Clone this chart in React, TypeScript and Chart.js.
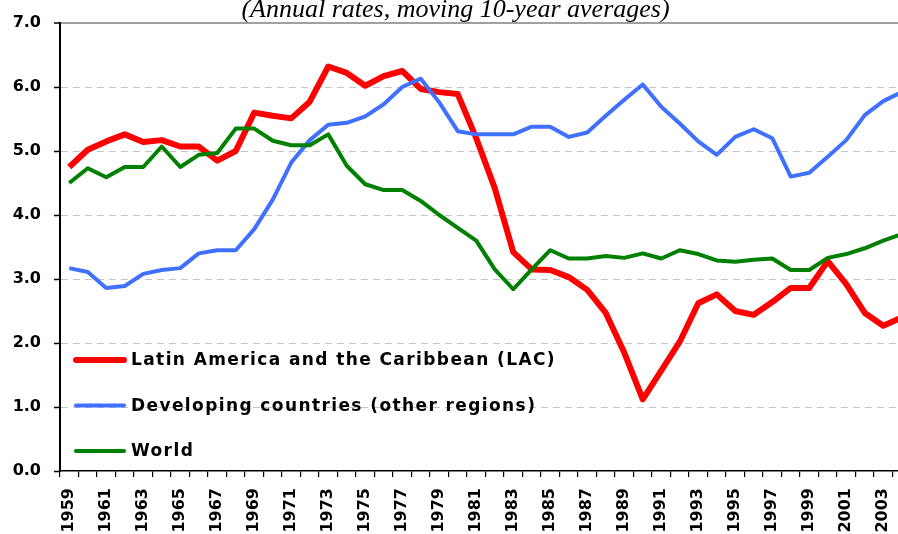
import { useEffect, useRef } from 'react';
import { Chart, registerables } from 'chart.js';

Chart.register(...registerables);

const chartTitle = '(Annual rates, moving 10-year averages)';

const years = [
  '1959', '1960', '1961', '1962', '1963', '1964', '1965', '1966', '1967', '1968',
  '1969', '1970', '1971', '1972', '1973', '1974', '1975', '1976', '1977', '1978',
  '1979', '1980', '1981', '1982', '1983', '1984', '1985', '1986', '1987', '1988',
  '1989', '1990', '1991', '1992', '1993', '1994', '1995', '1996', '1997', '1998',
  '1999', '2000', '2001', '2002', '2003', '2004',
];

const seriesNames = [
  'Latin America and the Caribbean (LAC)',
  'Developing countries (other regions)',
  'World',
];

const lacValues = [
  4.75, 5.02, 5.15, 5.26, 5.14, 5.17, 5.07, 5.07, 4.85, 5.0,
  5.6, 5.55, 5.51, 5.77, 6.32, 6.22, 6.02, 6.17, 6.25, 5.97,
  5.92, 5.89, 5.2, 4.42, 3.42, 3.15, 3.14, 3.03, 2.83, 2.47,
  1.85, 1.12, 1.57, 2.02, 2.62, 2.76, 2.5, 2.44, 2.64, 2.86,
  2.86, 3.28, 2.92, 2.47, 2.27, 2.4,
];

const developingValues = [
  3.17, 3.11, 2.86, 2.89, 3.08, 3.14, 3.17, 3.4, 3.45, 3.45,
  3.78, 4.24, 4.82, 5.17, 5.41, 5.44, 5.54, 5.73, 6.0, 6.13,
  5.76, 5.31, 5.26, 5.26, 5.26, 5.38, 5.38, 5.22, 5.29, 5.55,
  5.8, 6.04, 5.69, 5.43, 5.15, 4.94, 5.22, 5.34, 5.2, 4.6,
  4.66, 4.91, 5.17, 5.56, 5.78, 5.92,
];

const worldValues = [
  4.5, 4.73, 4.59, 4.75, 4.75, 5.07, 4.75, 4.94, 4.97, 5.35,
  5.35, 5.16, 5.09, 5.09, 5.26, 4.77, 4.48, 4.39, 4.39, 4.22,
  4.0, 3.8, 3.6, 3.15, 2.84, 3.15, 3.45, 3.32, 3.32, 3.36,
  3.33, 3.4, 3.32, 3.45, 3.39, 3.29, 3.27, 3.3, 3.32, 3.14,
  3.14, 3.33, 3.39, 3.48, 3.6, 3.7,
];

const yMin = 0;
const yMax = 7;
const yStep = 1;

const insideLegend = {
  id: 'insideLegend',
  afterDatasetsDraw(chart: any) {
    const { ctx, chartArea } = chart;
    const ds = chart.data.datasets;
    const n = ds.length;
    const rowGap = 45.5;
    ctx.save();
    ctx.font = 'bold 17px "DejaVu Sans"';
    try { (ctx as any).letterSpacing = '1.4px'; } catch (e) { /* ignore */ }
    ctx.textBaseline = 'middle';
    ctx.textAlign = 'left';
    ds.forEach((d: any, i: number) => {
      const y = chartArea.bottom - 20 - (n - 1 - i) * rowGap;
      ctx.beginPath();
      ctx.strokeStyle = d.borderColor;
      ctx.lineWidth = d.borderWidth;
      ctx.lineCap = 'round';
      ctx.moveTo(chartArea.left + 16, y);
      ctx.lineTo(chartArea.left + 64, y);
      ctx.stroke();
      ctx.fillStyle = '#000';
      ctx.fillText(d.label, chartArea.left + 71, y + 1);
    });
    ctx.restore();
  },
};

export default function App() {
  const canvasRef = useRef<HTMLCanvasElement | null>(null);

  useEffect(() => {
    const canvas = canvasRef.current;
    if (!canvas) return;
    const chart = new Chart(canvas, {
      type: 'line',
      data: {
        labels: years,
        datasets: [
          {
            label: seriesNames[0],
            data: lacValues,
            borderColor: '#FF0000',
            backgroundColor: '#FF0000',
            borderWidth: 6,
            pointRadius: 0,
            tension: 0,
            fill: false,
            borderJoinStyle: 'round',
            order: 3,
          },
          {
            label: seriesNames[1],
            data: developingValues,
            borderColor: '#4070FF',
            backgroundColor: '#4070FF',
            borderWidth: 4,
            pointRadius: 0,
            tension: 0,
            fill: false,
            borderJoinStyle: 'round',
            order: 2,
          },
          {
            label: seriesNames[2],
            data: worldValues,
            borderColor: '#008000',
            backgroundColor: '#008000',
            borderWidth: 4,
            pointRadius: 0,
            tension: 0,
            fill: false,
            borderJoinStyle: 'round',
            order: 1,
          },
        ],
      },
      options: {
        responsive: false,
        animation: false,
        devicePixelRatio: 1,
        layout: { padding: { top: 1, left: 0, right: 0, bottom: 0 } },
        plugins: {
          legend: { display: false },
          tooltip: { enabled: false },
          title: {
            display: true,
            text: chartTitle,
            color: '#000',
            font: { family: '"Liberation Serif", serif', size: 26, style: 'italic', weight: 'normal', lineHeight: 1.0 },
            padding: { top: 4, bottom: 0 },
          },
        },
        scales: {
          x: {
            type: 'category',
            offset: true,
            grid: {
              display: true,
              offset: true,
              drawOnChartArea: false,
              drawTicks: true,
              tickLength: 6,
              color: '#000',
              tickColor: '#000',
              lineWidth: 1.2,
            },
            border: { display: true, color: '#000', width: 1.5 },
            ticks: {
              autoSkip: false,
              maxRotation: 90,
              minRotation: 90,
              padding: 11,
              color: '#000',
              font: { family: '"DejaVu Sans"', weight: 'bold', size: 16 },
              callback: (_v: any, i: number) => (i % 2 === 0 ? years[i] : ''),
            },
            afterFit(scale: any) {
              scale.height = 63;
              scale.paddingLeft = 0;
              scale.paddingRight = 0;
            },
          },
          y: {
            min: yMin,
            max: yMax,
            ticks: {
              stepSize: yStep,
              padding: 13,
              color: '#000',
              font: { family: '"DejaVu Sans"', weight: 'bold', size: 16 },
              callback: (v: any) => Number(v).toFixed(1),
            },
            grid: {
              drawTicks: true,
              tickLength: 6,
              tickColor: '#000',
              tickWidth: 1.5,
              color: (c: any) => {
                const v = c.tick ? c.tick.value : null;
                if (v === yMax) return '#A0A0A0';
                if (v === yMin) return 'rgba(0,0,0,0)';
                return '#C4C4C4';
              },
              lineWidth: (c: any) => (c.tick && c.tick.value === yMax ? 2 : 1),
            },
            border: {
              display: true,
              color: '#000',
              width: 2,
              dash: (c: any) => (c.tick && c.tick.value === yMax ? [] : [7, 5]),
            },
            afterFit(scale: any) {
              scale.width = 60;
            },
          },
        },
      },
      plugins: [insideLegend],
    } as any);
    return () => chart.destroy();
  }, []);

  return (
    <div style={{ position: 'fixed', left: 0, top: 0, width: 898, height: 534, overflow: 'hidden', background: '#fff' }}>
      <div style={{ position: 'absolute', left: 0, top: -8 }}>
        <canvas ref={canvasRef} width={911} height={542} style={{ display: 'block' }} />
      </div>
    </div>
  );
}
